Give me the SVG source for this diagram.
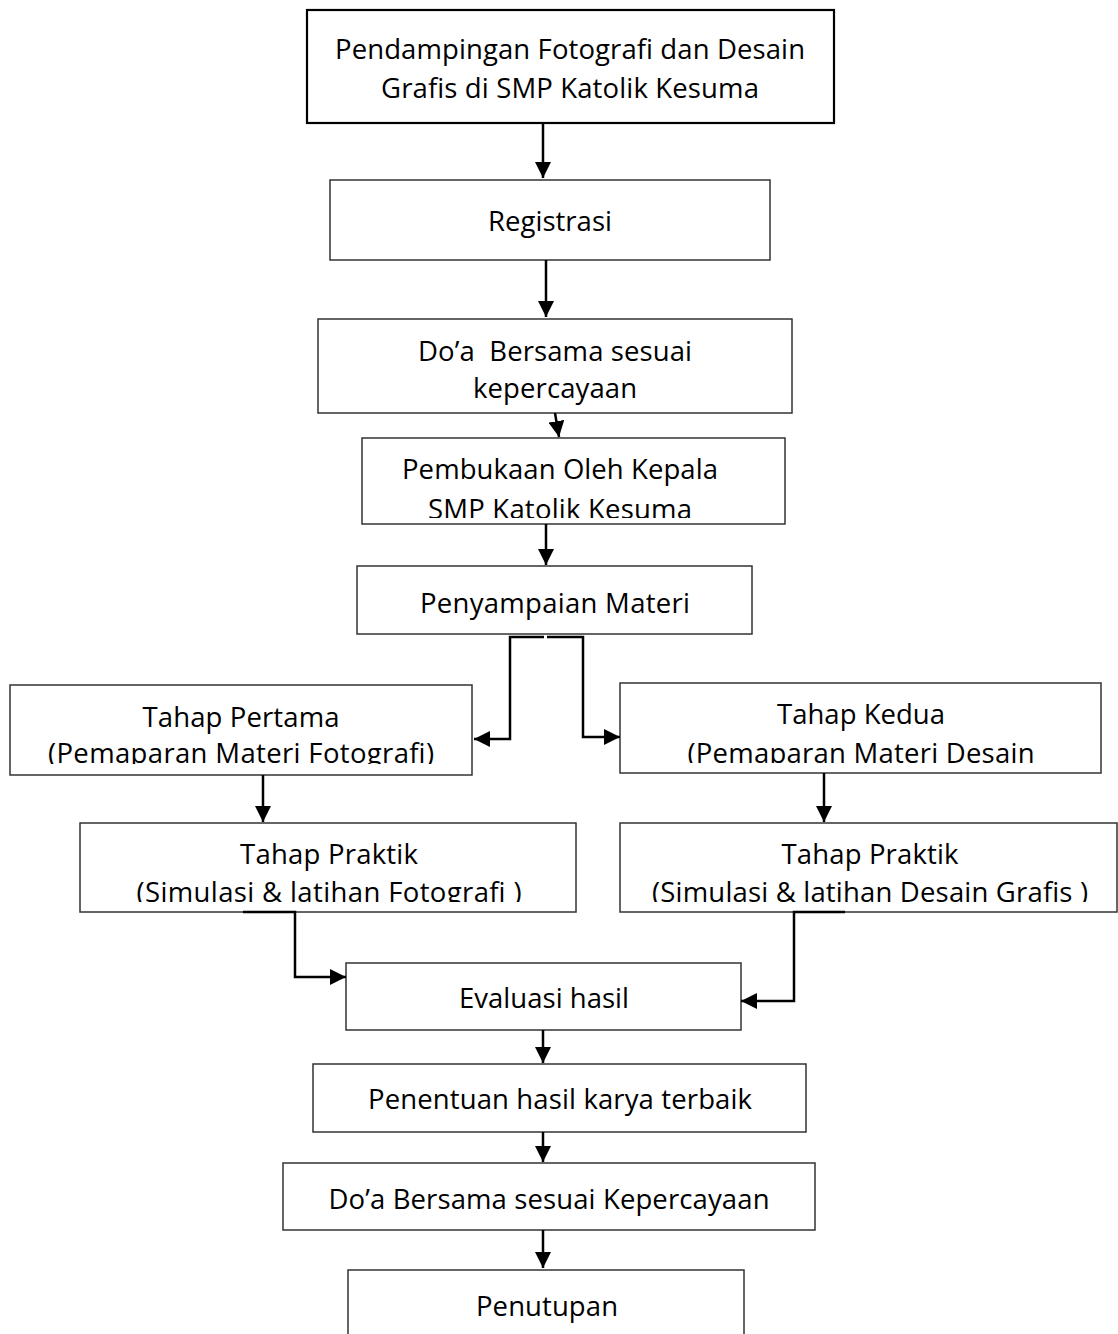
<svg xmlns="http://www.w3.org/2000/svg" width="1118" height="1334" viewBox="0 0 1118 1334">
<style>
.box{fill:#fff;stroke:#333;stroke-width:1.5}
.thick{stroke:#000;stroke-width:2.2}
.t{font-family:"Open Sans","Noto Sans","DejaVu Sans",sans-serif;font-size:27.5px;fill:#000;text-anchor:middle;dominant-baseline:central}
.c{fill:none;stroke:#000;stroke-width:2.5}
</style>
<defs>
<marker id="ah" markerUnits="userSpaceOnUse" markerWidth="17" markerHeight="16" refX="16" refY="8" orient="auto">
<path d="M0,0 L16,8 L0,16 Z" fill="#000"/>
</marker>
<clipPath id="c4"><rect x="362" y="438" width="423" height="80"/></clipPath>
<clipPath id="c6l"><rect x="10" y="685" width="462" height="79"/></clipPath>
<clipPath id="c6r"><rect x="620" y="683" width="481" height="80"/></clipPath>
<clipPath id="c7l"><rect x="80" y="823" width="496" height="79"/></clipPath>
<clipPath id="c7r"><rect x="620" y="823" width="498" height="79"/></clipPath>
</defs>
<g id="n1"><rect class="box thick" x="307" y="10" width="527" height="113"/>
<text class="t" x="570" y="48" textLength="470">Pendampingan Fotografi dan Desain</text>
<text class="t" x="570" y="87" textLength="378">Grafis di SMP Katolik Kesuma</text></g>
<g id="n2"><rect class="box" x="330" y="180" width="440" height="80"/>
<text class="t" x="550" y="220" textLength="124">Registrasi</text></g>
<g id="n3"><rect class="box" x="318" y="319" width="474" height="94"/>
<text class="t" x="555" y="350" textLength="274" xml:space="preserve">Do’a  Bersama sesuai</text>
<text class="t" x="555" y="387" textLength="164">kepercayaan</text></g>
<g id="n4"><rect class="box" x="362" y="438" width="423" height="86"/>
<g clip-path="url(#c4)"><text class="t" x="560" y="468" textLength="316">Pembukaan Oleh Kepala</text>
<text class="t" x="560" y="508" textLength="264">SMP Katolik Kesuma</text></g></g>
<g id="n5"><rect class="box" x="357" y="566" width="395" height="68"/>
<text class="t" x="555" y="602" textLength="270">Penyampaian Materi</text></g>
<g id="n6"><rect class="box" x="10" y="685" width="462" height="90"/>
<g clip-path="url(#c6l)"><text class="t" x="241" y="716" textLength="197">Tahap Pertama</text>
<text class="t" x="241" y="752" textLength="386">(Pemaparan Materi Fotografi)</text></g></g>
<g id="n7"><rect class="box" x="620" y="683" width="481" height="90"/>
<g clip-path="url(#c6r)"><text class="t" x="861" y="713" textLength="168">Tahap Kedua</text>
<text class="t" x="861" y="752" textLength="347">(Pemaparan Materi Desain</text></g></g>
<g id="n8"><rect class="box" x="80" y="823" width="496" height="89"/>
<g clip-path="url(#c7l)"><text class="t" x="329" y="853" textLength="178">Tahap Praktik</text>
<text class="t" x="329" y="891" textLength="385">(Simulasi &amp; latihan Fotografi )</text></g></g>
<g id="n9"><rect class="box" x="620" y="823" width="497" height="89"/>
<g clip-path="url(#c7r)"><text class="t" x="870" y="853" textLength="177">Tahap Praktik</text>
<text class="t" x="870" y="891" textLength="436">(Simulasi &amp; latihan Desain Grafis )</text></g></g>
<g id="n10"><rect class="box" x="346" y="963" width="395" height="67"/>
<text class="t" x="544" y="997" textLength="170">Evaluasi hasil</text></g>
<g id="n11"><rect class="box" x="313" y="1064" width="493" height="68"/>
<text class="t" x="560" y="1098" textLength="384">Penentuan hasil karya terbaik</text></g>
<g id="n12"><rect class="box" x="283" y="1163" width="532" height="67"/>
<text class="t" x="549" y="1198" textLength="441">Do’a Bersama sesuai Kepercayaan</text></g>
<g id="n13"><rect class="box" x="348" y="1270" width="396" height="90"/>
<text class="t" x="547" y="1305" textLength="142">Penutupan</text></g>
<g id="connectors">
<path class="c" d="M543,123 V178" marker-end="url(#ah)"/>
<path class="c" d="M546,260 V317" marker-end="url(#ah)"/>
<path class="c" d="M555,413 L559,437" marker-end="url(#ah)"/>
<path class="c" d="M546,524 V565" marker-end="url(#ah)"/>
<path class="c" d="M544,637 H510 V739 H474" marker-end="url(#ah)"/>
<path class="c" d="M547,637 H583 V737 H620" marker-end="url(#ah)"/>
<path class="c" d="M263,775 V822" marker-end="url(#ah)"/>
<path class="c" d="M824,773 V822" marker-end="url(#ah)"/>
<path class="c" d="M243,912 H295 V977 H346" marker-end="url(#ah)"/>
<path class="c" d="M845,912 H794 V1001 H741" marker-end="url(#ah)"/>
<path class="c" d="M543,1030 V1063" marker-end="url(#ah)"/>
<path class="c" d="M543,1132 V1162" marker-end="url(#ah)"/>
<path class="c" d="M543,1230 V1268" marker-end="url(#ah)"/>
</g>
</svg>
